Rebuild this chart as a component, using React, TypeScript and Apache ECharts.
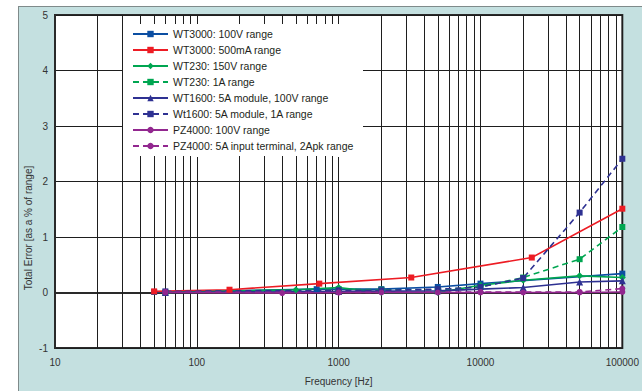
import React, { useEffect, useRef } from "react";
import * as echarts from "echarts";

// ---- data ----
const seriesNames = [
  "WT3000: 100V range",
  "WT3000: 500mA range",
  "WT230: 150V range",
  "WT230: 1A range",
  "WT1600: 5A module, 100V range",
  "Wt1600: 5A module, 1A range",
  "PZ4000: 100V range",
  "PZ4000: 5A input terminal, 2Apk range",
];

const wt3000_100V: [number, number][] = [
  [50, 0.01], [700, 0.06], [2000, 0.06], [5000, 0.1], [10000, 0.16], [100000, 0.34],
];
const wt3000_500mA: [number, number][] = [
  [50, 0.02], [170, 0.05], [730, 0.16], [3250, 0.27], [23000, 0.63], [100000, 1.51],
];
const wt230_150V: [number, number][] = [
  [60, 0.0], [500, 0.05], [1000, 0.09], [2000, 0.0], [5000, 0.0], [10000, 0.13], [20000, 0.22], [50000, 0.3], [100000, 0.27],
];
const wt230_1A: [number, number][] = [
  [60, 0.0], [1000, 0.06], [2000, 0.05], [5000, 0.05], [10000, 0.1], [20000, 0.27], [50000, 0.6], [100000, 1.18],
];
const wt1600_100V: [number, number][] = [
  [60, 0.0], [1000, 0.02], [5000, 0.03], [10000, 0.06], [20000, 0.09], [50000, 0.19], [100000, 0.21],
];
const wt1600_1A: [number, number][] = [
  [60, 0.02], [1000, 0.04], [2000, 0.04], [5000, 0.06], [10000, 0.1], [20000, 0.26], [50000, 1.44], [100000, 2.41],
];
const pz4000_100V: [number, number][] = [
  [60, 0.0], [400, -0.01], [1000, 0.0], [2000, 0.0], [5000, 0.0], [10000, 0.0], [20000, 0.0], [50000, 0.0], [100000, 0.01],
];
const pz4000_5A: [number, number][] = [
  [60, 0.01], [1000, 0.0], [10000, 0.01], [50000, 0.01], [100000, 0.07],
];

const xMin = 10;
const xMax = 100000;
const yMin = -1;
const yMax = 5;
const decades = [10, 100, 1000, 10000];
const minorMultipliers = [2, 3, 4, 5, 6, 7, 8, 9];
const xTitle = "Frequency [Hz]";
const yTitle = "Total Error [as a % of range]";

const BLUE = "#0b4ea2";
const RED = "#ed1c24";
const GREEN = "#00a651";
const NAVY = "#2e3192";
const PURPLE = "#92278f";
const GRID = "#1e1e1e";
const FONT = "Liberation Sans, Arial, sans-serif";

export default function App() {
  const ref = useRef<HTMLDivElement>(null);

  useEffect(() => {
    if (!ref.current) return;
    const chart = echarts.init(ref.current, null, { renderer: "svg" });

    const minorLines: number[] = [];
    decades.forEach((d) => minorMultipliers.forEach((m) => minorLines.push(d * m)));

    const mk = (
      name: string,
      data: [number, number][],
      color: string,
      symbol: string,
      symbolSize: number,
      dashed: boolean
    ) => ({
      name,
      type: "line",
      data,
      symbol,
      symbolSize,
      z: 5,
      itemStyle: { color },
      lineStyle: { color, width: 1.6, type: dashed ? [6, 4] : "solid" },
    });

    chart.setOption({
      animation: false,
      textStyle: { fontFamily: FONT },
      grid: {
        left: 55,
        top: 15,
        width: 568,
        height: 335,
        show: true,
        backgroundColor: "#ffffff",
        borderColor: "#2a2a2a",
        borderWidth: 2,
      },
      legend: {
        data: seriesNames,
        orient: "vertical",
        left: 123,
        top: 24,
        z: 20,
        backgroundColor: "#ffffff",
        padding: [4, 8, 4, 9],
        itemWidth: 35,
        itemHeight: 8,
        itemGap: 4,
        textStyle: { fontSize: 10.5, fontFamily: FONT, color: "#231f20", lineHeight: 12 },
      },
      xAxis: {
        type: "log",
        logBase: 10,
        min: xMin,
        max: xMax,
        axisLine: { show: true, lineStyle: { color: "#2a2a2a", width: 2 } },
        axisTick: { show: false },
        axisLabel: {
          color: "#333",
          fontSize: 10,
          margin: 9,
          formatter: (v: number) => String(Math.round(v)),
        },
        splitLine: { show: true, lineStyle: { color: GRID, width: 1 } },
        name: xTitle,
        nameLocation: "middle",
        nameGap: 28,
        nameTextStyle: { color: "#333", fontSize: 10 },
      },
      yAxis: {
        type: "value",
        min: yMin,
        max: yMax,
        interval: 1,
        axisLine: { show: true, lineStyle: { color: "#2a2a2a", width: 2 } },
        axisTick: { show: false },
        axisLabel: { color: "#333", fontSize: 10, margin: 7 },
        splitLine: { show: true, lineStyle: { color: GRID, width: 1 } },
      },
      graphic: [
        {
          type: "rect",
          z: 3,
          silent: true,
          shape: { x: 123, y: 24, width: 240, height: 133 },
          style: { fill: "#ffffff" },
        },
        {
          type: "text",
          x: 28,
          y: 228,
          rotation: Math.PI / 2,
          style: {
            text: yTitle,
            fill: "#333",
            fontSize: 10,
            fontFamily: FONT,
            align: "center",
            verticalAlign: "middle",
          },
        },
      ],
      series: [
        {
          name: "grid-helper",
          type: "line",
          data: [],
          z: 1,
          silent: true,
          markLine: {
            silent: true,
            symbol: ["none", "none"],
            label: { show: false },
            lineStyle: { color: GRID, width: 1, type: "solid" },
            emphasis: { disabled: true },
            data: minorLines.map((f) => ({ xAxis: f })),
          },
        },
        mk(seriesNames[0], wt3000_100V, BLUE, "rect", 6, false),
        mk(seriesNames[1], wt3000_500mA, RED, "rect", 6, false),
        mk(seriesNames[2], wt230_150V, GREEN, "diamond", 7, false),
        mk(seriesNames[3], wt230_1A, GREEN, "rect", 6, true),
        mk(seriesNames[4], wt1600_100V, NAVY, "triangle", 7, false),
        mk(seriesNames[5], wt1600_1A, NAVY, "rect", 6, true),
        mk(seriesNames[6], pz4000_100V, PURPLE, "circle", 6, false),
        mk(seriesNames[7], pz4000_5A, PURPLE, "circle", 6, true),
      ],
    });

    return () => chart.dispose();
  }, []);

  return (
    <div style={{ position: "fixed", left: 0, top: 0, width: 642, height: 391, background: "#fff" }}>
      <div
        style={{
          position: "absolute",
          left: 18,
          top: 6,
          right: 0,
          bottom: 0,
          background: "#c4e0e0",
          borderLeft: "1.5px solid #7f8a8a",
          borderTop: "1.5px solid #7f8a8a",
        }}
      />
      <div ref={ref} style={{ position: "absolute", left: 0, top: 0, width: 642, height: 391 }} />
    </div>
  );
}
